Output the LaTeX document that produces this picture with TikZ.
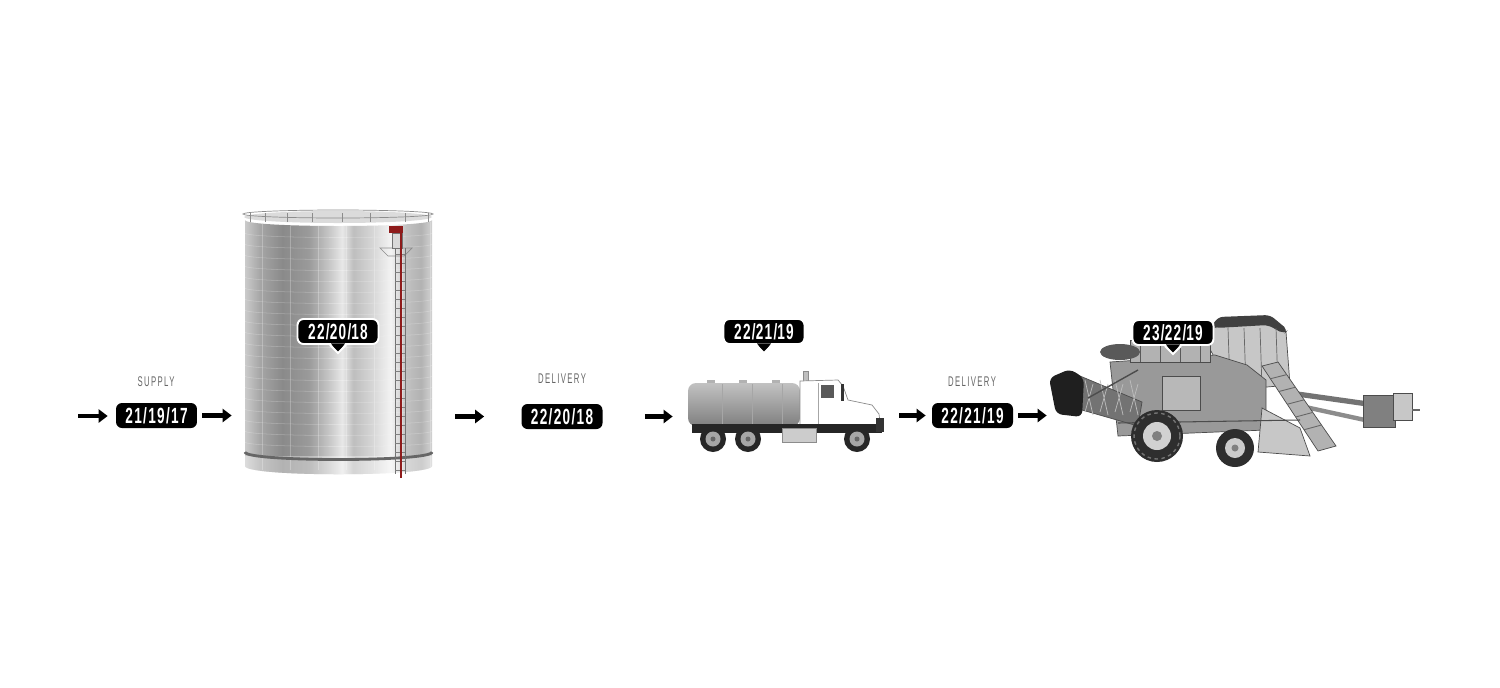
\documentclass[tikz,border=0pt]{standalone}
\usepackage{fontspec}
\newfontfamily\badgefont[FakeStretch=0.62,LetterSpace=6]{Liberation Sans}
\newfontfamily\tagfont[FakeStretch=0.55,LetterSpace=10]{Liberation Sans}
\usepackage{xcolor}
\usetikzlibrary{positioning,arrows.meta,calc,fit}
\definecolor{tagtext}{HTML}{666666}
\definecolor{ladderred}{HTML}{8E1B1B}
\definecolor{steelA}{HTML}{CACACA}
\definecolor{steelB}{HTML}{A6A6A6}
\definecolor{steelC}{HTML}{8A8A8A}
\definecolor{steelD}{HTML}{9A9A9A}
\definecolor{steelE}{HTML}{CBCBCB}
\definecolor{steelF}{HTML}{E8E8E8}
\definecolor{steelG}{HTML}{BEBEBE}
\definecolor{steelH}{HTML}{D6D6D6}
\definecolor{steelI}{HTML}{F3F3F3}
\definecolor{steelJ}{HTML}{C2C2C2}
\definecolor{steelK}{HTML}{B2B2B2}
\definecolor{steelL}{HTML}{D2D2D2}
\pgfdeclarehorizontalshading{steel}{100bp}{color(0bp)=(steelA); color(25bp)=(steelA);
  color(29bp)=(steelB); color(35bp)=(steelC); color(42bp)=(steelD); color(48bp)=(steelE);
  color(51bp)=(steelF); color(54bp)=(steelG); color(59bp)=(steelH); color(64bp)=(steelI);
  color(68bp)=(steelJ); color(72bp)=(steelK); color(75bp)=(steelL); color(100bp)=(steelL)}
\tikzset{
    flow/.style={-{Triangle[length=5.1pt,width=7.4pt]}, line width=2.3pt},
    badge/.style={
        fill=black,
        text=white,
        rounded corners=0.12cm,
        minimum width=1.62cm,
        minimum height=0.5cm,
        inner sep=0pt,
        font=\badgefont\bfseries\fontsize{12.5}{12.5}\selectfont
    },
    callout/.style={badge, draw=white, line width=1.1pt},
    tag/.style={text=tagtext, inner sep=0pt, font=\tagfont\fontsize{8}{8}\selectfont},
    grid/.style={white, opacity=.25, line width=.3pt},
    part/.style={draw=black!70, line width=.4pt}
}

\begin{document}
\begin{tikzpicture}[x=0.02cm, y=-0.02cm]
        \fill[white] (0,0) rectangle (1500,687);
        \useasboundingbox (0,0) rectangle (1500,687);

        % Serbatoio
        \fill[black!14] (338,217) ellipse [x radius=94, y radius=6];
        \shade[shading=steel] (245,220) -- (245,466) .. controls (245,477) and (432,477) .. (432,466)
            -- (432,220) .. controls (432,228) and (245,228) .. (245,220) -- cycle;
        \begin{scope}
            \clip (245,220) -- (245,466) .. controls (245,477) and (432,477) .. (432,466)
                -- (432,220) .. controls (432,228) and (245,228) .. (245,220) -- cycle;
            \foreach \y in {233,244,...,450}
                \draw[grid] (245,\y) .. controls (245,\y+6) and (432,\y+6) .. (432,\y);
            \foreach \x in {262,290,...,430}
                \draw[grid] (\x,222) -- (\x,470);
            \fill[white, opacity=.35] (245,456) rectangle (432,480); % fascia bassa
        \end{scope}
        \draw[black!60, line width=1.6pt] (245,452) .. controls (245,462) and (432,462) .. (432,452);
        \draw[black!45, line width=.4pt] (338,214) ellipse [x radius=95, y radius=4]; % ringhiera
        \foreach \x in {250,265,287,312,342,370,405,428}
            \draw[black!45, line width=.4pt] (\x,213) -- (\x,222);
        % Scala
        \draw[black!45, line width=.4pt] (380,248) -- (412,248) -- (404,256) -- (388,256) -- cycle;
        \foreach \x in {395,405}
            \draw[black!55, line width=.4pt] (\x,248) -- (\x,474);
        \foreach \y in {254,263,...,470}
            \draw[black!50, line width=.3pt] (395,\y) -- (405,\y);
        \filldraw[fill=black!15, draw=black!55, line width=.3pt] (392,233) rectangle (402,248);
        \fill[ladderred] (389,226) rectangle (403,233);
        \draw[ladderred, line width=1.3pt] (401,233) -- (401,478);
        \node[fit={(243,210) (432,476)}, inner sep=0pt] (tank) {};

        % Autocisterna
        \shade[top color=black!24, middle color=black!4, bottom color=black!50, rounded corners=0.16cm]
            (688,383) rectangle (800,426);
        \foreach \x in {722,752,782}
            \draw[black!35, line width=.5pt] (\x,384) -- (\x,425);
        \foreach \x in {711,743,776}
            \fill[black!30] (\x-4,380) rectangle (\x+4,383);
        \filldraw[fill=black!25, draw=black!45, line width=.3pt] (803,371) rectangle (808,386);
        \filldraw[fill=white, draw=black!45, line width=.4pt] (800,381) -- (838,380) -- (843,386)
            -- (848,400) -- (872,405) -- (879,414) -- (881,430) -- (800,430) -- cycle;
        \draw[black!35, line width=.4pt] (818,383) -- (818,428);
        \fill[black!65] (821,385) rectangle (834,398);
        \fill[black!80] (841,384) rectangle (844,401);
        \fill[black!85] (692,424) rectangle (882,433);
        \fill[black!80] (876,418) rectangle (884,432);
        \filldraw[fill=black!20, draw=black!45, line width=.3pt] (782,428) rectangle (816,442);
        \foreach \x in {713,748,857}
            {
            \fill[black!85] (\x,439) circle (13);
            \fill[black!35] (\x,439) circle (7.5);
            \fill[black!60] (\x,439) circle (2.5);
            }
        \node[fit={(687,370) (884,452)}, inner sep=0pt] (truck) {};

        % Mietitrice
        \draw[black!55, line width=3pt] (1290,393) -- (1368,404);
        \draw[black!45, line width=2.5pt] (1296,405) -- (1365,420);
        \filldraw[fill=black!50, part] (1363,395) rectangle (1395,427);
        \filldraw[fill=black!22, part] (1393,393) rectangle (1412,420);
        \draw[black!60, line width=1.5pt] (1412,410) -- (1420,410);
        \filldraw[fill=black!22, part] (1205,340) -- (1215,322) -- (1272,320) -- (1286,332)
            -- (1290,385) -- (1232,390) -- cycle;
        \fill[black!75, rounded corners=0.1cm] (1212,326) -- (1218,317) -- (1270,315) -- (1288,330)
            -- (1284,334) -- (1268,325) -- (1216,328) -- cycle; % tetto cabina
        \foreach \x in {1228,1244,1260,1276}
            \draw[black!60, line width=.4pt] (\x,328) -- (\x+2,388);
        \filldraw[fill=black!40, part] (1110,362) -- (1215,355) -- (1247,365) -- (1266,380)
            -- (1266,430) -- (1118,436) -- cycle;
        \filldraw[fill=black!30, part] (1130,340) rectangle (1210,362);
        \foreach \x in {1140,1160,1180,1200}
            \draw[black!65, line width=.4pt] (\x,340) -- (\x,362);
        \fill[black!65] (1120,352) ellipse [x radius=20, y radius=8];
        \filldraw[fill=black!28, part] (1162,376) rectangle (1200,410);
        \filldraw[fill=black!55, part] (1066,386) -- (1080,376) -- (1142,402) -- (1138,426) -- (1068,406) -- cycle;
        \foreach \x in {1085,1100,1115,1130}
            \draw[black!25, line width=.4pt] (\x,380) -- (\x+8,415) (\x+8,384) -- (\x,412);
        \draw[black!70, line width=.8pt] (1088,398) -- (1138,370);
        \fill[black!88, rounded corners=0.12cm] (1049,378) -- (1070,369) -- (1084,378) -- (1082,417)
            -- (1056,414) -- cycle;
        \filldraw[fill=black!22, part] (1262,408) -- (1300,428) -- (1310,456) -- (1258,452) -- cycle;
        \filldraw[fill=black!30, part] (1262,366) -- (1278,362) -- (1336,446) -- (1318,451) -- cycle;
        \foreach \t in {0.15,0.3,...,0.9}
            \draw[black!60, line width=.5pt] ($(1262,366)!\t!(1318,451)$) -- ($(1278,362)!\t!(1336,446)$);
        \draw[black!70, line width=.6pt] (1118,423) -- (1300,420);
        \fill[black!82] (1235,448) circle (19);
        \fill[black!20] (1235,448) circle (10);
        \fill[black!50] (1235,448) circle (3.5);
        \fill[black!82] (1157,436) circle (26);
        \draw[black!55, line width=.8pt, dash pattern=on 2pt off 2pt] (1157,436) circle (23);
        \fill[black!18] (1157,436) circle (14);
        \fill[black!50] (1157,436) circle (5);
        \node[fit={(1049,315) (1420,462)}, inner sep=0pt] (harv) {};

        % Etichette e badge
        \node[tag] (lsup) at (156,382) {SUPPLY};
        \node[badge] (bsup) at (156.5,415.5) {21/19/17};
        \node[tag] (ldel1) at (562,379) {DELIVERY};
        \node[badge] (bdel1) at (562,416.5) {22/20/18};
        \node[tag] (ldel2) at (972,382) {DELIVERY};
        \node[badge] (bdel2) at (972.5,415.5) {22/21/19};

        % Fumetti
        \foreach \n/\x/\y/\t in {ctank/338/331.5/22\slash 20\slash 18, ctruck/764/331.5/22\slash 21\slash 19, charv/1173/332.5/23\slash 22\slash 19}
            {
            \node[callout] (\n) at (\x,\y) {\t};
            \fill[black] ($(\n.south)+(-7,-1.5)$) -- ($(\n.south)+(0,8)$) -- ($(\n.south)+(7,-1.5)$) -- cycle;
            \draw[white, line width=1.1pt] ($(\n.south)+(-8,0)$) -- ($(\n.south)+(0,8)$) -- ($(\n.south)+(8,0)$);
            }

        % Frecce
        \coordinate (start) at (78,416);
        \draw[flow, shorten >=0.16cm] (start) -- (start -| bsup.west);
        \draw[flow, shorten <=0.1cm, shorten >=0.22cm] (bsup.east) -- (bsup.east -| tank.west);
        \draw[flow, shorten <=0.46cm, shorten >=0.74cm] (tank.east |- bdel1.west) -- (bdel1.west);
        \draw[flow, shorten <=0.84cm, shorten >=0.28cm] (bdel1.east) -- (bdel1.east -| truck.west);
        \draw[flow, shorten <=0.3cm, shorten >=0.12cm] (truck.east |- bdel2.west) -- (bdel2.west);
        \draw[flow, shorten <=0.1cm, shorten >=0.04cm] (bdel2.east) -- (bdel2.east -| harv.west);

    \end{tikzpicture}
\end{document}
